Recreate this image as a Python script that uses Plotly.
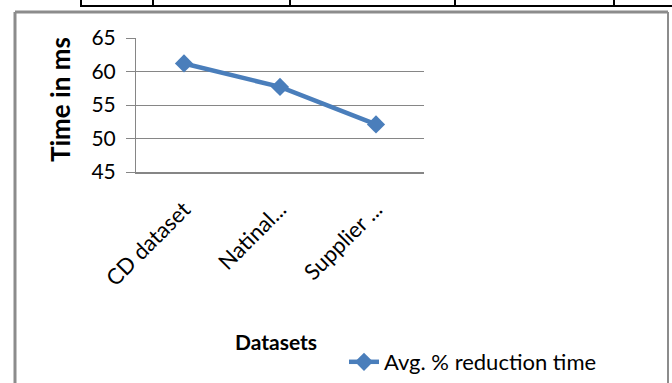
import plotly.graph_objects as go

categories = ["CD dataset", "Natinal...", "Supplier ..."]
values = [61.2, 57.7, 52.1]
series_name = "Avg. % reduction time"
y_ticks = [45, 50, 55, 60, 65]

W, H = 672, 383
def px(x): return x / W
def py(y): return 1 - y / H

fig = go.Figure()
fig.add_trace(go.Scatter(
    x=categories, y=values, name=series_name, mode="lines+markers",
    line=dict(color="#4A7EBB", width=4.5),
    marker=dict(symbol="diamond", size=14, color="#4A7EBB"),
    showlegend=True,
))

grid = "#868686"
fig.update_layout(
    width=W, height=H,
    margin=dict(l=0, r=0, t=0, b=0, autoexpand=False),
    paper_bgcolor="white", plot_bgcolor="white",
    font=dict(family="Lato", color="#000000", size=21),
    xaxis=dict(domain=[px(136), px(424)], range=[-0.5, 2.5],
               showgrid=False, showline=True,
               linecolor=grid, linewidth=2, ticks="", tickangle=-45,
               ticklabelstandoff=14,
               tickfont=dict(size=22), fixedrange=True, automargin=False),
    yaxis=dict(domain=[py(172), py(38)], range=[45, 65], tickvals=y_ticks,
               showgrid=True, gridcolor=grid, gridwidth=1.3,
               showline=True, linecolor=grid, linewidth=1,
               ticks="outside", ticklen=9, tickcolor=grid, tickwidth=1.3,
               ticklabelstandoff=6, zeroline=False, automargin=False,
               fixedrange=True, tickfont=dict(size=21)),
    legend=dict(x=px(344), y=py(362), xanchor="left", yanchor="middle",
                bgcolor="rgba(0,0,0,0)", font=dict(size=22)),
    showlegend=True,
)

fig.add_annotation(text="<b>Time in ms</b>", xref="paper", yref="paper",
                   x=px(60), y=py(100), showarrow=False, textangle=-90,
                   font=dict(size=26), xanchor="center", yanchor="middle")
fig.add_annotation(text="<b>Datasets</b>", xref="paper", yref="paper",
                   x=px(276), y=py(341), showarrow=False,
                   font=dict(size=21), xanchor="center", yanchor="middle")

# outer gray frame
fig.add_shape(type="line", xref="paper", yref="paper", x0=px(15), x1=px(15),
              y0=py(12), y1=py(390), line=dict(color="#8C8C8C", width=3))
fig.add_shape(type="line", xref="paper", yref="paper", x0=px(15), x1=px(668),
              y0=py(12), y1=py(12), line=dict(color="#8C8C8C", width=3))
fig.add_shape(type="line", xref="paper", yref="paper", x0=px(668), x1=px(668),
              y0=py(12), y1=py(390), line=dict(color="#8C8C8C", width=2))
# black table fragment on top
fig.add_shape(type="line", xref="paper", yref="paper", x0=px(80), x1=px(672),
              y0=py(6), y1=py(6), line=dict(color="black", width=2))
for xv in [81, 153, 290, 455, 614]:
    fig.add_shape(type="line", xref="paper", yref="paper", x0=px(xv), x1=px(xv),
                  y0=py(0), y1=py(6), line=dict(color="black", width=2))

fig.write_html("out.html", config={"displayModeBar": False},
               post_script="document.body.style.margin='0';document.body.style.overflow='hidden';")
